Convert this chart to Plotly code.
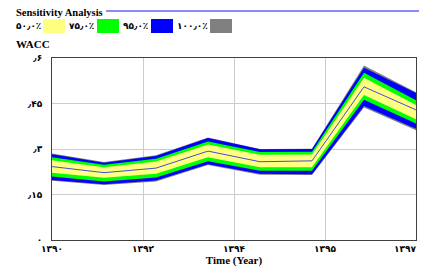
import plotly.graph_objects as go

years = [1390, 1391, 1392, 1393, 1394, 1395, 1396, 1397]

median = [0.242, 0.222, 0.237, 0.293, 0.258, 0.261, 0.505, 0.429]
q100_hi = [0.285, 0.257, 0.279, 0.338, 0.300, 0.301, 0.575, 0.487]
q95_hi = [0.283, 0.255, 0.277, 0.336, 0.299, 0.300, 0.568, 0.485]
q75_hi = [0.273, 0.248, 0.268, 0.325, 0.290, 0.291, 0.551, 0.461]
q50_hi = [0.263, 0.240, 0.259, 0.315, 0.281, 0.282, 0.535, 0.445]
q50_lo = [0.222, 0.205, 0.218, 0.273, 0.240, 0.240, 0.478, 0.398]
q75_lo = [0.209, 0.193, 0.206, 0.260, 0.228, 0.228, 0.462, 0.384]
q95_lo = [0.198, 0.184, 0.196, 0.250, 0.218, 0.217, 0.442, 0.367]
q100_lo = [0.195, 0.181, 0.193, 0.247, 0.215, 0.214, 0.437, 0.362]

band_labels = ["۵۰٫۰٪", "۷۵٫۰٪", "۹۵٫۰٪", "۱۰۰٫۰٪"]
band_colors = ["#ffff80", "#00ff00", "#0000ff", "#808080"]

x_tickvals = [1390, 1391.75, 1393.5, 1395.25, 1397]
x_ticktext = ["۱۳۹۰", "۱۳۹۲", "۱۳۹۴", "۱۳۹۵", "۱۳۹۷" + "\u00a0" * 7]
y_tickvals = [0, 0.15, 0.3, 0.45, 0.6]
y_ticktext = ["۰", "٫۱۵", "٫۳", "٫۴۵", "٫۶"]

# page body has an 8px default margin; lay out in window pixels and compensate
OFF = 8
W, H = 427 - OFF, 275 - OFF
L, R, T, B = 52 - OFF, 11, 58 - OFF, 35
PW, PH = W - L - R, H - T - B


def px(x):
    return (x - OFF - L) / PW


def py(y):
    return (H - B - (y - OFF)) / PH


fig = go.Figure()

bands = [
    (q100_hi, q100_lo, band_colors[3]),
    (q95_hi, q95_lo, band_colors[2]),
    (q75_hi, q75_lo, band_colors[1]),
    (q50_hi, q50_lo, band_colors[0]),
]
for hi, lo, col in bands:
    fig.add_trace(go.Scatter(
        x=years + years[::-1], y=hi + lo[::-1],
        fill="toself", fillcolor=col, mode="lines",
        line=dict(width=0, color=col), hoverinfo="skip", showlegend=False))

fig.add_trace(go.Scatter(x=years, y=median, mode="lines",
                         line=dict(color="#4a4ae0", width=1), showlegend=False))

fig.update_xaxes(range=[1390, 1397], tickvals=x_tickvals, ticktext=x_ticktext,
                 showgrid=True, gridcolor="#cccccc", gridwidth=1,
                 showline=True, linecolor="#404040", linewidth=1, mirror=True,
                 zeroline=False, ticks="", ticklabelstandoff=0, automargin=False,
                 ticklabeloverflow="allow",
                 tickfont=dict(family="DejaVu Sans", size=9, color="black", weight="bold"),
                 title=dict(text="<b>Time (Year)</b>", standoff=0,
                            font=dict(family="Liberation Serif", size=11, color="black")))
fig.update_yaxes(range=[0, 0.6], tickvals=y_tickvals, ticktext=y_ticktext,
                 showgrid=True, gridcolor="#cccccc", gridwidth=1,
                 showline=True, linecolor="#404040", linewidth=1, mirror=True,
                 zeroline=False, ticks="", ticklabelstandoff=7, automargin=False,
                 ticklabeloverflow="allow",
                 tickfont=dict(family="DejaVu Sans", size=9, color="black", weight="bold"))

ann = []
shapes = []
ann.append(dict(text="<b>Sensitivity Analysis</b>", x=px(14), y=py(12), xref="paper", yref="paper",
                xanchor="left", yanchor="middle", showarrow=False,
                font=dict(family="Liberation Serif", size=10.5, color="black")))
shapes.append(dict(type="line", xref="paper", yref="paper", x0=px(106), x1=px(427),
                   y0=py(11), y1=py(11), line=dict(color="#6464f0", width=1.5)))
ann.append(dict(text="<b>WACC</b>", x=px(14), y=py(44), xref="paper", yref="paper",
                xanchor="left", yanchor="middle", showarrow=False,
                font=dict(family="Liberation Serif", size=11, color="black")))

text_x = [14, 67, 121, 175]
box_x = [(43, 65), (97, 119), (151, 173), (210, 232)]
for lab, col, tx, (b0, b1) in zip(band_labels, band_colors, text_x, box_x):
    ann.append(dict(text="<b>" + lab + "</b>", x=px(tx), y=py(26), xref="paper", yref="paper",
                    xanchor="left", yanchor="middle", showarrow=False,
                    font=dict(family="DejaVu Sans", size=9, color="black")))
    shapes.append(dict(type="rect", xref="paper", yref="paper", x0=px(b0), x1=px(b1),
                       y0=py(33), y1=py(19), fillcolor=col, line=dict(width=0)))

fig.update_layout(width=W, height=H, margin=dict(l=L, r=R, t=T, b=B, autoexpand=False),
                  paper_bgcolor="white", plot_bgcolor="white",
                  annotations=ann, shapes=shapes, showlegend=False)

fig.write_html("out.html")
